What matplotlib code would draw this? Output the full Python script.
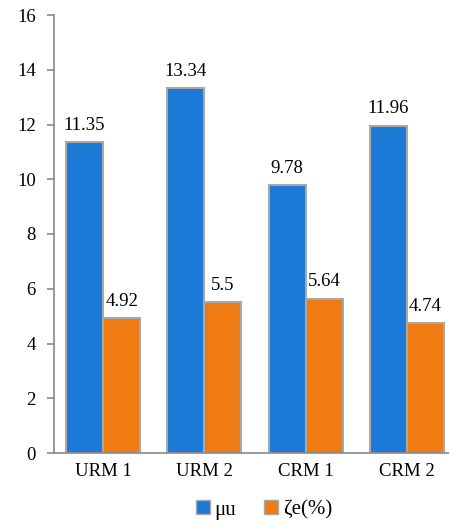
import numpy as np
import matplotlib.pyplot as plt
from matplotlib.lines import Line2D

categories = ['URM 1', 'URM 2', 'CRM 1', 'CRM 2']
mu_u = [11.35, 13.34, 9.78, 11.96]
zeta_e = [4.92, 5.5, 5.64, 4.74]
series_names = ['μu', 'ζe(%)']

plt.rcParams['font.family'] = ['Liberation Serif', 'DejaVu Serif']

fig = plt.figure(figsize=(4.49, 5.26), dpi=100)
ax = fig.add_axes([54/449, 73/526, 395/449, 438/526])

x = np.arange(len(categories))
w = 0.365
blue = '#1a7ad6'
orange = '#f07b12'
edge = '#a8a8a8'

b1 = ax.bar(x - w/2, mu_u, w, color=blue, edgecolor=edge, linewidth=1.5, zorder=2)
b2 = ax.bar(x + w/2, zeta_e, w, color=orange, edgecolor=edge, linewidth=1.5, zorder=2)

for bars, vals in ((b1, mu_u), (b2, zeta_e)):
    for r, v in zip(bars, vals):
        ax.text(r.get_x() + r.get_width()/2, v + 0.3, f'{v:g}',
                ha='center', va='bottom', fontsize=13.5)

ax.set_ylim(0, 16)
ax.set_xlim(-0.485, 3.415)
ax.set_yticks(range(0, 17, 2))
ax.set_xticks(x)
ax.set_xticklabels(categories)
ax.tick_params(axis='y', labelsize=13.5, length=5, color='#888888', width=1.2, pad=8)
ax.tick_params(axis='x', labelsize=13.5, length=0, pad=7)

for s in ('top', 'right'):
    ax.spines[s].set_visible(False)
ax.spines['left'].set_color('#888888')
ax.spines['bottom'].set_color('#888888')
ax.spines['left'].set_linewidth(1.2)
ax.spines['bottom'].set_linewidth(1.2)

handles = [Line2D([], [], marker='s', ls='none', markersize=10, markerfacecolor=blue, markeredgecolor=edge),
           Line2D([], [], marker='s', ls='none', markersize=10, markerfacecolor=orange, markeredgecolor=edge)]
fig.legend(handles, series_names, loc='center', bbox_to_anchor=(262/449, 1 - 510/526),
           ncol=2, frameon=False, fontsize=15, handletextpad=0.05, columnspacing=1.2,
           handlelength=1.0)

fig.savefig('out.png', dpi=100)
